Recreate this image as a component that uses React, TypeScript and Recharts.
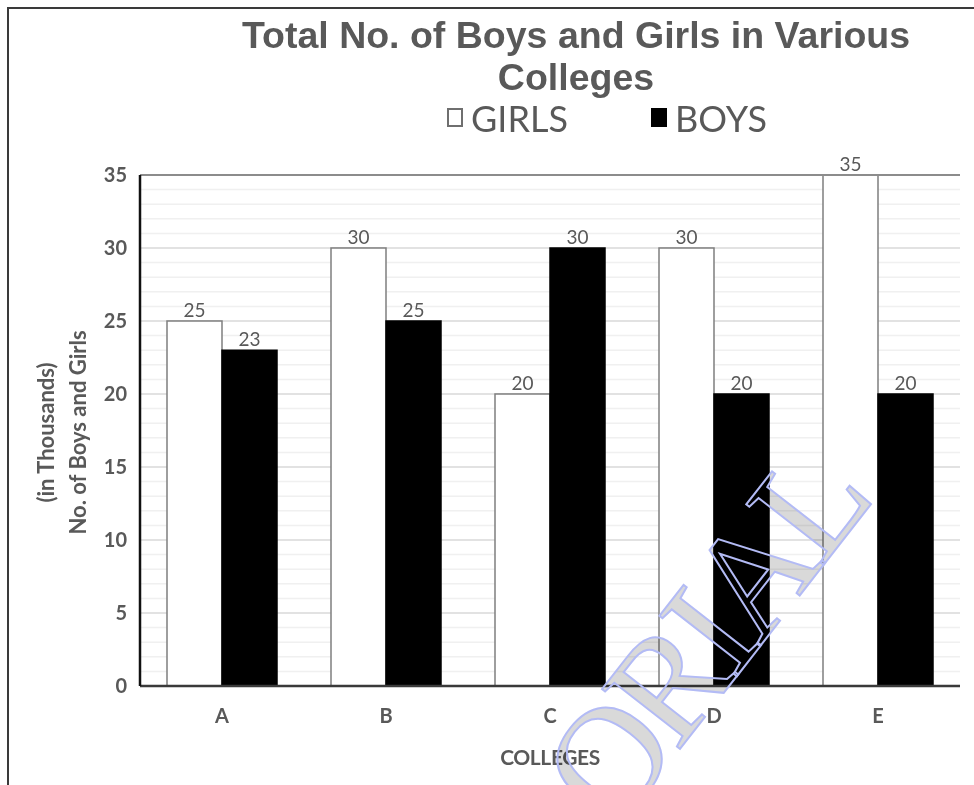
import { BarChart, Bar, XAxis, YAxis, CartesianGrid, LabelList, Label, ReferenceLine } from 'recharts';

const colleges = ['A', 'B', 'C', 'D', 'E'];
const girls = [25, 30, 20, 30, 35];
const boys = [23, 25, 30, 20, 20];
const yTicks = [0, 5, 10, 15, 20, 25, 30, 35];
const minorLines = [1, 2, 3, 4, 6, 7, 8, 9, 11, 12, 13, 14, 16, 17, 18, 19, 21, 22, 23, 24, 26, 27, 28, 29, 31, 32, 33, 34];

const GREY = '#595959';
const FONT = 'Lato, "Open Sans", sans-serif';

const series = [
  { key: 'girls', name: 'GIRLS', fill: '#ffffff', stroke: '#7f7f7f', legendX: 447 },
  { key: 'boys', name: 'BOYS', fill: '#000000', stroke: '#000000', legendX: 651 },
];

const data = colleges.map((c, i) => ({ college: c, girls: girls[i], boys: boys[i] }));

function YTitle({ viewBox }: any) {
  const cy = viewBox.y + viewBox.height / 2 + 2;
  const style = { fontFamily: FONT, fontWeight: 700, fontSize: 22, fill: GREY };
  return (
    <g>
      <text x={45} y={cy} transform={`rotate(-90 45 ${cy})`} textAnchor="middle" dominantBaseline="central" style={style}>
        (in Thousands)
      </text>
      <text x={77} y={cy} transform={`rotate(-90 77 ${cy})`} textAnchor="middle" dominantBaseline="central" style={style}>
        No. of Boys and Girls
      </text>
    </g>
  );
}

export default function App() {
  return (
    <div style={{ position: 'fixed', left: 0, top: 0, width: 974, height: 785, background: '#fff', overflow: 'hidden' }}>
      {/* page frame the chart sits in */}
      <div style={{ position: 'absolute', left: 7, top: 7, width: 1000, height: 1000, border: '2px solid #3a3a3a' }} />

      <div
        style={{
          position: 'absolute', left: 0, top: 14, width: 1152, textAlign: 'center',
          fontFamily: '"Liberation Sans", Arial, sans-serif', fontWeight: 700,
          fontSize: 37.5, lineHeight: '42px', color: GREY,
        }}
      >
        Total No. of Boys and Girls in Various
        <br />
        Colleges
      </div>

      {series.map((s) => (
        <div key={s.key}>
          <span
            style={{
              position: 'absolute', left: s.legendX, top: 108, width: 16, height: 19, background: s.fill,
              border: `2px solid ${s.key === 'girls' ? '#6f6f6f' : '#000'}`, boxSizing: 'border-box',
            }}
          />
          <span
            style={{
              position: 'absolute', left: s.legendX + 24, top: 100, fontFamily: FONT, fontSize: 36,
              lineHeight: '36px', color: GREY, whiteSpace: 'nowrap',
            }}
          >
            {s.name}
          </span>
        </div>
      ))}

      <div style={{ position: 'absolute', left: 0, top: 0 }}>
        <BarChart
          width={974}
          height={785}
          data={data}
          margin={{ top: 175, right: 14, bottom: 0, left: 0 }}
          barCategoryGap={27}
          barGap={0}
        >
          <CartesianGrid vertical={false} horizontalValues={minorLines} stroke="#f0f0f0" strokeWidth={1.5} />
          <CartesianGrid vertical={false} horizontalValues={yTicks} stroke="#d9d9d9" strokeWidth={1.5} />
          <XAxis
            dataKey="college"
            height={99}
            tickSize={0}
            tickMargin={23}
            axisLine={{ stroke: '#3a3a3a', strokeWidth: 2.5 }}
            tick={{ fill: GREY, fontSize: 20, fontWeight: 700, fontFamily: FONT }}
          >
            <Label
              value="COLLEGES"
              position="insideBottom"
              offset={20}
              style={{ fill: GREY, fontSize: 21, fontWeight: 700, fontFamily: FONT, letterSpacing: -0.4 }}
            />
          </XAxis>
          <YAxis
            width={140}
            domain={[0, 35]}
            ticks={yTicks}
            interval={0}
            tickSize={0}
            tickMargin={13}
            axisLine={{ stroke: '#111', strokeWidth: 2.5 }}
            tick={{ fill: GREY, fontSize: 20, fontWeight: 700, fontFamily: FONT }}
          >
            <Label content={YTitle} />
          </YAxis>
          <YAxis
            yAxisId="r"
            orientation="right"
            width={0}
            domain={[0, 35]}
            tick={false}
            tickLine={false}
            axisLine={{ stroke: '#111', strokeWidth: 2.5 }}
          />
          <ReferenceLine y={35} stroke="#8c8c8c" strokeWidth={2} />
          {series.map((s) => (
            <Bar key={s.key} dataKey={s.key} name={s.name} fill={s.fill} stroke={s.stroke} strokeWidth={1.5} isAnimationActive={false}>
              <LabelList dataKey={s.key} position="top" offset={4} fill={GREY} fontSize={19} fontFamily={FONT} />
            </Bar>
          ))}
        </BarChart>
      </div>

      {/* faint diagonal watermark over the chart */}
      <svg width={974} height={785} style={{ position: 'absolute', left: 0, top: 0, pointerEvents: 'none' }}>
        <g transform="translate(615 832) rotate(-52)">
          <text x={0} y={0} fontFamily='"Liberation Serif", serif' fontSize={150} letterSpacing={-8} fill="#cfcfcf" fillOpacity={0.8} style={{ mixBlendMode: 'multiply' }}>
            ORIAL
          </text>
          <text x={0} y={0} fontFamily='"Liberation Serif", serif' fontSize={150} letterSpacing={-8} fill="none" stroke="#b3bbf5" strokeWidth={2}>
            ORIAL
          </text>
        </g>
      </svg>
    </div>
  );
}
